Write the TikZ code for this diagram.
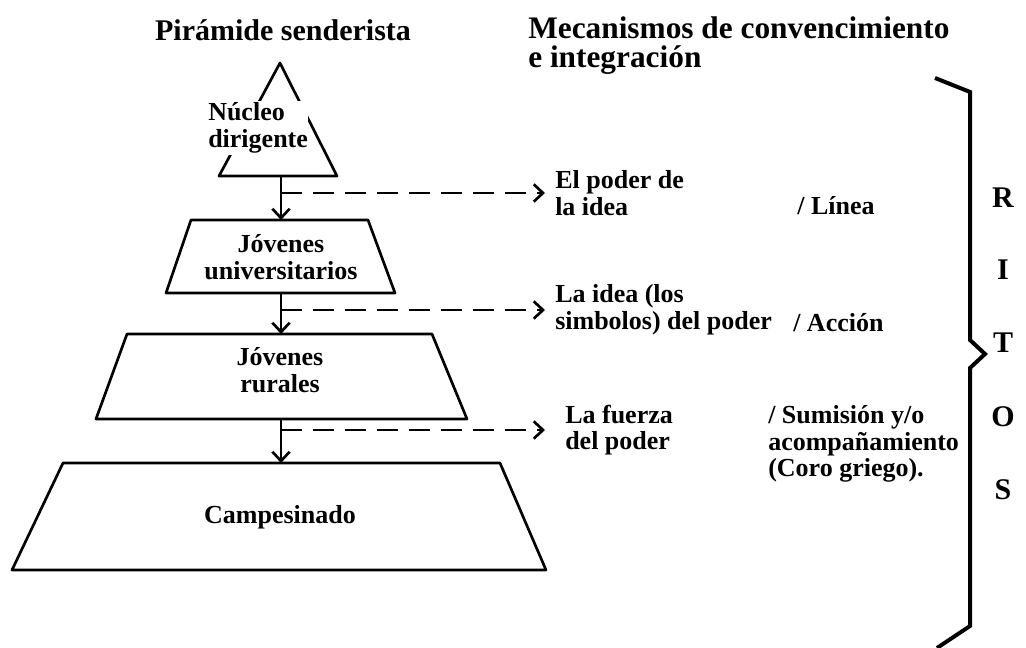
\documentclass[tikz,border=0pt]{standalone}
\usepackage{fontspec}
\setmainfont{Liberation Serif}
\usetikzlibrary{arrows.meta}

\tikzset{
  linea/.style={line width=2pt, line join=round},
  flecha/.style={line width=2pt, -{Straight Barb[length=7pt,width=13pt,line width=2pt]}},
  trazos/.style={flecha, line width=1.8pt, dash pattern=on 16pt off 8pt},
  texto/.style={font=\bfseries\fontsize{19.5}{20}\selectfont, align=left, inner sep=0pt},
  titulo/.style={font=\bfseries\fontsize{22.5}{22}\selectfont, align=left, inner sep=0pt},
}

\begin{document}
\begin{tikzpicture}[x=0.75pt,y=0.75pt,yscale=-1,xscale=1]
\path[use as bounding box] (0,0) rectangle (1026,648);

% Titles
\draw (283,30) node [titulo] (piramide) {Pirámide senderista};
\draw (528,16) node [titulo, font=\bfseries\fontsize{23.5}{22}\selectfont, anchor=north west] (mecanismos) {Mecanismos de convencimiento\\e integración};

%Shape: Triangle [id:nucleo]
\draw [linea] (280,63) -- (337,176) -- (219,176) -- cycle ;
\draw (208,128) node [texto, anchor=west, fill=white, inner xsep=0pt, inner ysep=1pt] (nucleo) {Núcleo\\dirigente};

%Shape: Trapezoid [id:universitarios]
\draw [linea] (191,220) -- (368,220) -- (395,293) -- (166,293) -- cycle ;
\draw (281,257) node [texto, align=center] (universitarios) {Jóvenes\\universitarios};

%Shape: Trapezoid [id:rurales]
\draw [linea] (127,334) -- (432,334) -- (467,419) -- (96,419) -- cycle ;
\draw (280,370) node [texto, align=center] (rurales) {Jóvenes\\rurales};

%Shape: Trapezoid [id:campesinado]
\draw [linea] (63,463) -- (500,463) -- (546,570) -- (12,570) -- cycle ;
\draw (280,517) node [texto] (campesinado) {Campesinado};

% Points on the axis
\coordinate (nucleo-b) at (281,176);
\coordinate (univ-t) at (281,220);
\coordinate (univ-b) at (281,293);
\coordinate (rur-t) at (281,334);
\coordinate (rur-b) at (281,419);
\coordinate (camp-t) at (281,463);
\coordinate (d1) at (281,193);
\coordinate (d2) at (281,310);
\coordinate (d3) at (281,430);
\coordinate (f1) at (545,193);
\coordinate (f2) at (545,310);
\coordinate (f3) at (545,430);

%Straight Lines
\draw [flecha] (nucleo-b) -- (univ-t) ;
\draw [flecha] (univ-b) -- (rur-t) ;
\draw [flecha] (rur-b) -- (camp-t) ;

%Dashed Lines
\draw [trazos] (d1) -- (f1) ;
\draw [trazos] (d2) -- (f2) ;
\draw [trazos] (d3) -- (f3) ;

% Text Node
\draw (555,193) node [texto, anchor=west] (poder) {El poder de\\la idea};
\draw (797,206) node [texto, anchor=west] (linea) {/ Línea};
\draw (555,310) node [texto, anchor=west] (simbolos) {La idea (los\\simbolos) del poder};
\draw (793,323) node [texto, anchor=west] (accion) {/ Acción};
\draw (565,430) node [texto, anchor=west] (fuerza) {La fuerza\\del poder};
\draw (768,444) node [texto, anchor=west] (sumision) {/ Sumisión y/o\\acompañamiento\\(Coro griego).};

%Shape: Brace [id:ritos]
\draw [line width=3pt, line join=miter] (935,78) -- (970,92) -- (970,340) -- (985,354) -- (970,368) -- (970,626) -- (937,648) ;

% Letters
\draw (1003,198) node [titulo] (r) {R};
\draw (1003,270) node [titulo] (i) {I};
\draw (1003,343) node [titulo] (t) {T};
\draw (1003,417) node [titulo] (o) {O};
\draw (1003,490) node [titulo] (s) {S};

\end{tikzpicture}
\end{document}
